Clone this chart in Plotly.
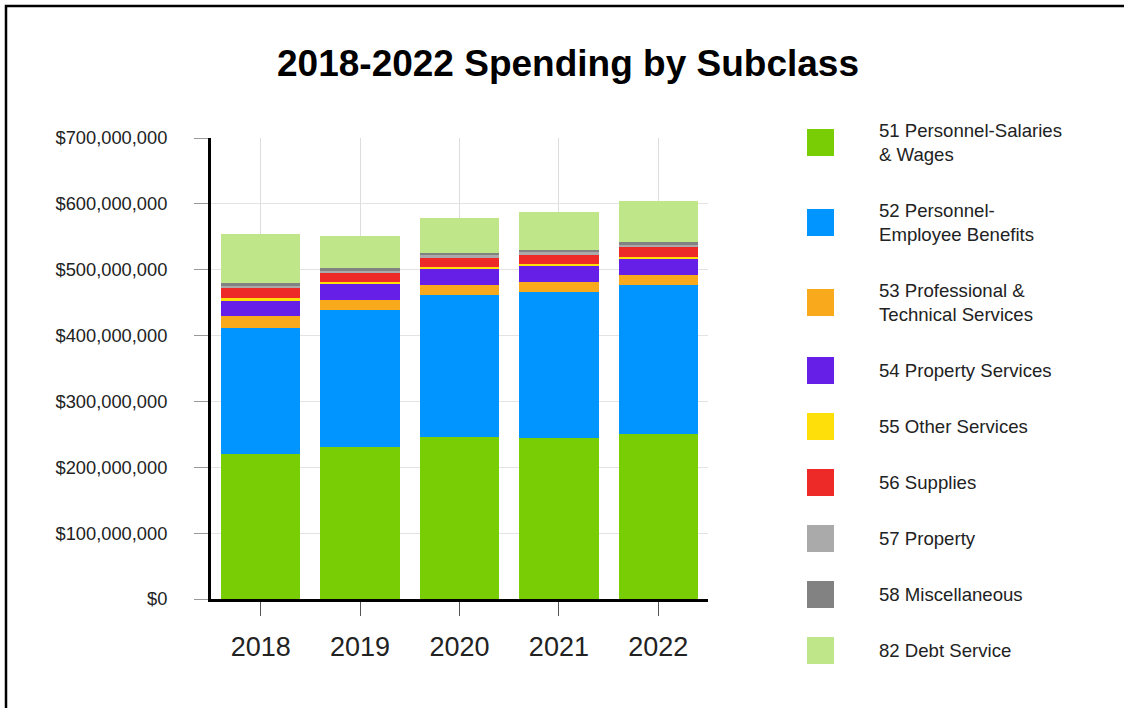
import plotly.graph_objects as go

# Fiscal years on the x axis
years = ["2018", "2019", "2020", "2021", "2022"]

# Spending per subclass, in millions of dollars
salaries_wages = [220.2, 230.8, 246.4, 244.0, 251.0]
employee_benefits = [191.3, 208.0, 214.7, 221.7, 225.8]
professional_technical = [18.2, 15.7, 16.1, 15.6, 15.6]
property_services = [23.8, 23.8, 23.9, 23.9, 24.3]
other_services = [3.0, 3.5, 3.0, 3.5, 3.0]
supplies = [15.2, 14.3, 14.1, 14.1, 15.2]
property_items = [3.9, 3.0, 3.6, 3.6, 3.7]
miscellaneous = [3.6, 3.0, 3.1, 3.1, 3.0]
debt_service = [74.8, 49.5, 53.1, 57.7, 62.7]

series_names = [
    "51 Personnel-Salaries<br>& Wages",
    "52 Personnel-<br>Employee Benefits",
    "53 Professional &<br>Technical Services",
    "54 Property Services",
    "55 Other Services",
    "56 Supplies",
    "57 Property",
    "58 Miscellaneous",
    "82 Debt Service",
]
series_values = [
    salaries_wages, employee_benefits, professional_technical,
    property_services, other_services, supplies, property_items,
    miscellaneous, debt_service,
]
series_colors = [
    "#79CD04", "#0095FF", "#F8A91C", "#661FE6", "#FFDF0A",
    "#EE2A29", "#AAAAAA", "#828282", "#BFE78A",
]

FONT = "Liberation Sans, Arial, sans-serif"
W, H = 1124, 708
L, R, T, B = 211, 708, 138, 599  # plot-area pixel box


def px_x(p):
    return (p - L) / (R - L)


def px_y(p):
    return (B - p) / (B - T)


fig = go.Figure()
for name, vals, color in zip(series_names, series_values, series_colors):
    fig.add_trace(go.Bar(
        x=years,
        y=[v * 1e6 for v in vals],
        name=name.replace("<br>", " "),
        marker=dict(color=color, line=dict(width=0)),
        showlegend=False,
        hovertemplate="%{x}: $%{y:,.0f}<extra>" + name.replace("<br>", " ") + "</extra>",
    ))

shapes = []
annotations = []

# Outer frame around the whole chart
shapes.append(dict(
    type="rect", xref="paper", yref="paper",
    x0=px_x(6), x1=px_x(1140), y0=px_y(725), y1=px_y(6),
    line=dict(color="#000000", width=2.5), fillcolor="rgba(0,0,0,0)",
    layer="above",
))

# Legend: colored squares with labels to the right
half = {1: 12, 2: 24}
gap = 32
cy = 142.5
prev_lines = None
for name, color in zip(series_names, series_colors):
    lines = name.count("<br>") + 1
    if prev_lines is not None:
        cy += half[prev_lines] + gap + half[lines]
    prev_lines = lines
    shapes.append(dict(
        type="rect", xref="paper", yref="paper",
        x0=px_x(807), x1=px_x(834), y0=px_y(cy + 13.5), y1=px_y(cy - 13.5),
        line=dict(width=0), fillcolor=color,
    ))
    annotations.append(dict(
        xref="paper", yref="paper", x=px_x(877), y=px_y(cy),
        xanchor="left", yanchor="middle", align="left",
        text=name, showarrow=False,
        font=dict(family=FONT, size=18.6, color="#222222"),
    ))

fig.update_layout(
    width=W, height=H,
    margin=dict(l=L, r=W - R, t=T, b=H - B, pad=0),
    paper_bgcolor="#FFFFFF",
    plot_bgcolor="#FFFFFF",
    barmode="stack",
    bargap=0.2,
    font=dict(family=FONT, color="#222222"),
    title=dict(
        text="<b>2018-2022 Spending by Subclass</b>",
        x=568 / W, xref="container", xanchor="center",
        y=1 - 63 / H, yref="container", yanchor="middle",
        font=dict(family=FONT, size=37, color="#000000"),
    ),
    xaxis=dict(
        type="category",
        showgrid=True, gridcolor="#DDDDDD", gridwidth=1,
        showline=True, linecolor="#000000", linewidth=2.5,
        ticks="outside", ticklen=14, tickcolor="#555555", tickwidth=1,
        tickfont=dict(family=FONT, size=27, color="#222222"),
        ticklabelstandoff=8,
        zeroline=False,
    ),
    yaxis=dict(
        range=[0, 700e6], dtick=100e6, tick0=0,
        tickprefix="$", tickformat=",d",
        showgrid=True, gridcolor="#E3E3E3", gridwidth=1,
        showline=True, linecolor="#000000", linewidth=3,
        ticks="outside", ticklen=14, tickcolor="#999999", tickwidth=1,
        tickfont=dict(family=FONT, size=18.3, color="#222222"),
        ticklabelstandoff=23,
        zeroline=False,
    ),
    shapes=shapes,
    annotations=annotations,
)

fig.write_html("out.html")
